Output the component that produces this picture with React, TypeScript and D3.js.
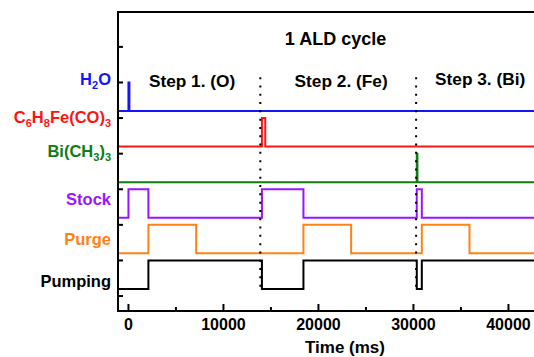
import React from "react";
import * as d3 from "d3";

const seriesNames = ["H2O", "C6H8Fe(CO)3", "Bi(CH3)3", "Stock", "Purge", "Pumping"];
const seriesColors = ["#1414ff", "#ff1414", "#0f7d0f", "#9b14ff", "#ff8214", "#000000"];
const lowLevels = [5.2, 4.2, 3.2, 2.2, 1.2, 0.2];
const highLevels = [6.0, 5.0, 4.0, 3.0, 2.0, 1.0];
const labelLevels = [5.93, 4.86, 3.92, 2.55, 1.43, 0.26];

const h2oHigh = [[0, 100]];
const feHigh = [[14050, 14400]];
const biHigh = [[30350, 30420]];
const stockHigh = [[0, 2100], [14050, 18420], [30350, 30880]];
const purgeHigh = [[2100, 7130], [18420, 23440], [30880, 35900]];
const pumpingHigh = [[2100, 14050], [18420, 30350], [30880, 44000]];
const highIntervals = [h2oHigh, feHigh, biHigh, stockHigh, purgeHigh, pumpingHigh];

const stepDividers = [13880, 30280];
const stepLabels = ["Step 1. (O)", "Step 2. (Fe)", "Step 3. (Bi)"];
const stepCenters = [6700, 22390, 37020];
const titleText = "1 ALD cycle";
const titleCenter = 21800;
const xMajorTicks = [0, 10000, 20000, 30000, 40000];
const xMinorTicks = [5000, 15000, 25000, 35000];
const yTicks = [0, 1, 2, 3, 4, 5, 6, 7];
const xDomain = [-1100, 44000];
const yDomain = [-0.42, 7.98];

const FONT = "'Liberation Sans', Arial, Helvetica, sans-serif";

function renderLabel(name: string) {
  // split digits into subscripts
  const parts = name.split(/(\d)/).filter((p) => p !== "");
  return parts.map((p, i) =>
    /\d/.test(p) ? (
      <tspan key={i} fontSize={11} dy={4}>{p}</tspan>
    ) : (
      <tspan key={i} dy={i > 0 && /\d/.test(parts[i - 1]) ? -4 : 0}>{p}</tspan>
    )
  );
}

export default function App() {
  const W = 534, H = 357;
  const left = 118, top = 12, bottom = 311;
  const x = d3.scaleLinear().domain(xDomain).range([left, 546.45]);
  const y = d3.scaleLinear().domain(yDomain).range([bottom, top]);

  const lineGen = d3.line<[number, number]>().x((d) => x(d[0])).y((d) => y(d[1]));

  const paths = highIntervals.map((ints, si) => {
    const lo = lowLevels[si], hi = highLevels[si];
    const pts: [number, number][] = [[xDomain[0], lo]];
    ints.forEach(([a, b]) => {
      pts.push([a, lo], [a, hi], [b, hi], [b, lo]);
    });
    pts.push([xDomain[1], lo]);
    return lineGen(pts) as string;
  });

  return (
    <svg width={W} height={H} style={{ position: "absolute", left: 0, top: 0, background: "#fff" }} fontFamily={FONT}>
      <defs>
        <clipPath id="plotclip">
          <rect x={left} y={top} width={W - left + 20} height={bottom - top} />
        </clipPath>
      </defs>
      <g clipPath="url(#plotclip)">
        {paths.map((d, i) => (
          <path key={i} d={d} fill="none" stroke={seriesColors[i]} strokeWidth={2} strokeLinejoin="miter" />
        ))}
        {stepDividers.map((t, i) => (
          <line key={i} x1={x(t)} x2={x(t)} y1={y(6.15)} y2={y(0.15)} stroke="#000" strokeWidth={2} strokeDasharray="2 6.3" />
        ))}
      </g>
      {/* frame */}
      <line x1={left} x2={W + 20} y1={top} y2={top} stroke="#000" strokeWidth={2} />
      <line x1={left} x2={W + 20} y1={bottom} y2={bottom} stroke="#000" strokeWidth={2} />
      <line x1={left} x2={left} y1={top - 1} y2={bottom + 1} stroke="#000" strokeWidth={2} />
      {/* x ticks */}
      {xMajorTicks.map((t) => (
        <g key={t}>
          <line x1={x(t)} x2={x(t)} y1={bottom} y2={bottom - 7} stroke="#000" strokeWidth={2} />
          <text x={x(t)} y={330} textAnchor="middle" fontSize={16} fontWeight="bold">{t}</text>
        </g>
      ))}
      {xMinorTicks.map((t) => (
        <line key={t} x1={x(t)} x2={x(t)} y1={bottom} y2={bottom - 4} stroke="#000" strokeWidth={2} />
      ))}
      {/* y ticks */}
      {yTicks.map((v) => (
        <line key={v} x1={left} x2={left + 5} y1={y(v)} y2={y(v)} stroke="#000" strokeWidth={2} />
      ))}
      <text x={345} y={353} textAnchor="middle" fontSize={17} fontWeight="bold">Time (ms)</text>
      {/* series labels */}
      {seriesNames.map((n, i) => (
        <text key={n} x={111} y={y(labelLevels[i])} textAnchor="end" fontSize={16.5} fontWeight="bold" fill={seriesColors[i]}>
          {renderLabel(n)}
        </text>
      ))}
      <text x={x(titleCenter)} y={45} textAnchor="middle" fontSize={18} fontWeight="bold">{titleText}</text>
      {stepLabels.map((s, i) => (
        <text key={s} x={x(stepCenters[i])} y={i === 2 ? 85 : 87} textAnchor="middle" fontSize={17.3} fontWeight="bold">{s}</text>
      ))}
    </svg>
  );
}
